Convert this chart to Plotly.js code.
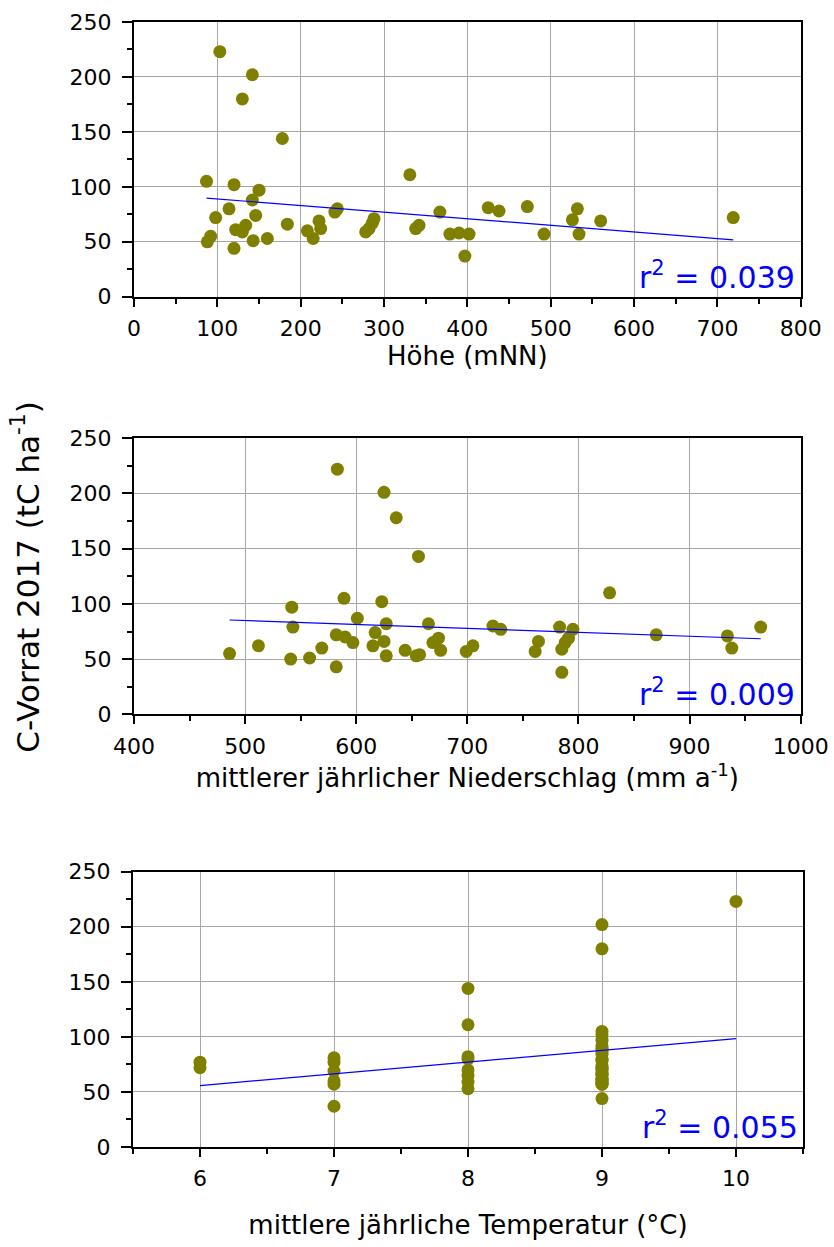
<!DOCTYPE html>
<html>
<head>
<meta charset="utf-8">
<script src="https://cdn.plot.ly/plotly-3.0.1.min.js"></script>
<style>html,body{margin:0;padding:0;background:#fff;}#chart{width:834px;height:1247px;}</style>
</head>
<body>
<div id="chart"></div>
<script>
// ---- Panel 1: Höhe (mNN) vs C-Vorrat
const hoehe = [103,142,130,178,87,120,150,142,114,146,98,184,134,122,130,92,88,143,160,120,244,241,222,224,208,215,288,286,282,278,331,367,342,338,379,390,402,397,425,438,472,492,532,526,534,560,719];
const cHoehe = [223,202,180,144,105,102,97,88,80,74,72,66,65,61,59,55,50,51,53,44,80,77,69,62,60,53,71,67,62,59,111,77,65,62,57,58,57,37,81,78,82,57,80,70,57,69,72];

// ---- Panel 2: Niederschlag (mm a-1) vs C-Vorrat
const niederschlag = [583,625,636,656,589,623,542,601,543,627,665,617,582,590,597,625,615,669,674,676,512,486,569,541,558,582,627,644,654,657,699,705,723,730,764,761,783,795,791,785,785,828,870,934,938,964,788];
const cNied = [222,201,178,143,105,102,97,87,79,82,82,74,72,70,65,66,62,65,69,58,62,55,60,50,51,43,53,58,53,54,57,62,80,77,66,57,79,77,69,59,38,110,72,71,60,79,65];

// ---- Panel 3: Temperatur (°C) vs C-Vorrat
const temperatur = [6,6, 7,7,7,7,7,7, 8,8,8,8,8,8,8,8, 9,9,9,9,9,9,9,9,9,9,9,9,9,9,9,9,9,9,9,9,9,9,9,9,9,9,9,9,9,9, 10];
const cTemp = [77,72, 81,77,69,60,57,37, 144,111,82,80,70,65,59,53, 202,180,105,102,97,92,90,88,86,84,80,80,78,74,72,72,71,69,67,66,65,62,62,62,61,59,58,57,57,44, 223];

// r² labels and axis titles
const r2Labels = ["r<sup>2</sup> = 0.039", "r<sup>2</sup> = 0.009", "r<sup>2</sup> = 0.055"];
const xTitles = ["Höhe (mNN)", "mittlerer jährlicher Niederschlag (mm a<sup>-1</sup>)", "mittlere jährliche Temperatur (°C)"];
const yTitle = "C-Vorrat 2017 (tC ha<sup>-1</sup>)";

// least squares fit computed from the data
function linFit(xs, ys) {
  const n = xs.length;
  const mx = xs.reduce((a, b) => a + b, 0) / n;
  const my = ys.reduce((a, b) => a + b, 0) / n;
  let sxy = 0, sxx = 0;
  for (let i = 0; i < n; i++) { sxy += (xs[i] - mx) * (ys[i] - my); sxx += (xs[i] - mx) ** 2; }
  const slope = sxy / sxx, icpt = my - slope * mx;
  const x0 = Math.min(...xs), x1 = Math.max(...xs);
  return { x: [x0, x1], y: [icpt + slope * x0, icpt + slope * x1] };
}

const OLIVE = '#808000';
const FONT = '"DejaVu Sans", "Liberation Sans", Arial, sans-serif';
const sets = [[hoehe, cHoehe], [niederschlag, cNied], [temperatur, cTemp]];
const traces = [];
sets.forEach((s, i) => {
  const xa = i === 0 ? 'x' : 'x' + (i + 1), ya = i === 0 ? 'y' : 'y' + (i + 1);
  traces.push({ type: 'scatter', mode: 'markers', x: s[0], y: s[1], xaxis: xa, yaxis: ya,
    marker: { color: OLIVE, size: 13 }, hoverinfo: 'x+y', showlegend: false });
  const f = linFit(s[0], s[1]);
  traces.push({ type: 'scatter', mode: 'lines', x: f.x, y: f.y, xaxis: xa, yaxis: ya,
    line: { color: '#0000ff', width: 1.2 }, hoverinfo: 'skip', showlegend: false });
});

const gridC = '#a6a6a6';
function xAxis(range, dtick, minorDtick, domain, anchor, title, standoff) {
  return {
    range: range, domain: domain, anchor: anchor, dtick: dtick, tick0: 0,
    showgrid: true, gridcolor: gridC, gridwidth: 1, zeroline: false,
    showline: true, linecolor: '#000', linewidth: 2, mirror: true,
    ticks: 'outside', ticklen: 8, tickwidth: 2, tickcolor: '#000',
    minor: { dtick: minorDtick, ticks: 'outside', ticklen: 5, tickwidth: 2, tickcolor: '#000', showgrid: false },
    tickfont: { family: FONT, size: 22, color: '#000' }, ticklabelstandoff: 3,
    title: { text: title, font: { family: FONT, size: 26, color: '#000' }, standoff: standoff },
    fixedrange: true
  };
}
function yAxis(domain, anchor) {
  return {
    range: [0, 250], domain: domain, anchor: anchor, dtick: 50, tick0: 0,
    showgrid: true, gridcolor: gridC, gridwidth: 1, zeroline: false,
    showline: true, linecolor: '#000', linewidth: 2, mirror: true,
    ticks: 'outside', ticklen: 10, tickwidth: 2, tickcolor: '#000',
    minor: { dtick: 25, ticks: 'outside', ticklen: 5, tickwidth: 2, tickcolor: '#000', showgrid: false },
    tickfont: { family: FONT, size: 22, color: '#000' }, ticklabelstandoff: 6,
    fixedrange: true
  };
}

const d1 = [0.0015, 0.9966];
const layout = {
  width: 834, height: 1247,
  margin: { l: 133, r: 31, t: 22, b: 100 },
  paper_bgcolor: '#fff', plot_bgcolor: '#fff',
  font: { family: FONT, color: '#000' },
  showlegend: false,
  xaxis: xAxis([0, 800], 100, 50, d1, 'y', xTitles[0], 3),
  yaxis: yAxis([0.7558, 1.0], 'x'),
  xaxis2: xAxis([400, 1000], 100, 50, d1, 'y2', xTitles[1], 6),
  yaxis2: yAxis([0.3846, 0.6300], 'x2'),
  xaxis3: xAxis([5.5, 10.5], 1, 0.5, [0, 1], 'y3', xTitles[2], 25),
  yaxis3: yAxis([0.0, 0.2447], 'x3'),
  annotations: [
    { text: r2Labels[0], xref: 'x domain', yref: 'y domain', x: 0.995, y: 0.0, xanchor: 'right', yanchor: 'bottom', showarrow: false, font: { family: FONT, size: 30, color: '#0000ff' } },
    { text: r2Labels[1], xref: 'x2 domain', yref: 'y2 domain', x: 0.995, y: 0.0, xanchor: 'right', yanchor: 'bottom', showarrow: false, font: { family: FONT, size: 30, color: '#0000ff' } },
    { text: r2Labels[2], xref: 'x3 domain', yref: 'y3 domain', x: 0.995, y: 0.0, xanchor: 'right', yanchor: 'bottom', showarrow: false, font: { family: FONT, size: 30, color: '#0000ff' } },
    { text: yTitle, xref: 'paper', yref: 'paper', x: -0.161, y: 0.507, xanchor: 'center', yanchor: 'middle', textangle: -90, showarrow: false, font: { family: FONT, size: 31, color: '#000' } }
  ]
};

Plotly.newPlot('chart', traces, layout, { displayModeBar: false, staticPlot: true });
</script>
</body>
</html>
